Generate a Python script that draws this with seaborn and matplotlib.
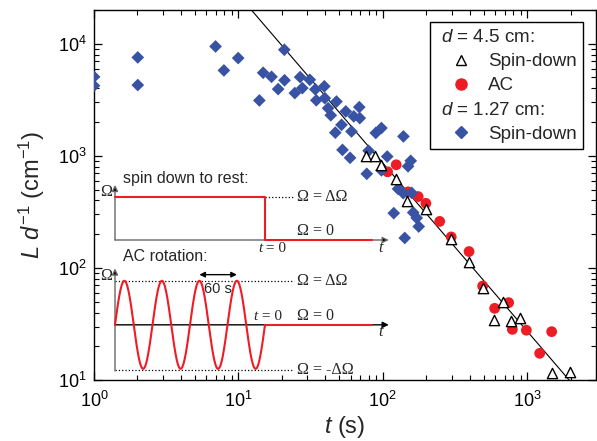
import numpy as np
import matplotlib
matplotlib.use('Agg')
import matplotlib.pyplot as plt
import seaborn as sns
from matplotlib.lines import Line2D

# d = 4.5 cm, spin-down (open triangles)
spin45_t = [77.1, 88.1, 98.0, 123, 148, 199, 296, 394, 492, 679, 589, 778, 888, 1486, 1968]
spin45_L = [1000, 1000, 832, 624, 396, 336, 182, 113, 66.3, 50.0, 34.3, 33.9, 35.5, 11.6, 11.9]

# d = 4.5 cm, AC rotation (red circles)
ac45_t = [108, 124, 150, 176, 199, 248, 298, 396, 492, 596, 745, 790, 988, 1479, 1222]
ac45_L = [720, 832, 477, 433, 377, 260, 189, 140, 69.0, 43.6, 49.0, 28.3, 27.8, 27.0, 17.3]

# d = 1.27 cm, spin-down (blue diamonds)
spin127_t = [1.0, 1.0, 2.01, 2.01, 6.95, 7.94, 9.97, 13.98, 14.85, 16.97,
             18.86, 20.88, 20.81, 24.6, 26.77, 27.73, 31.24, 34.12, 39.38, 34.66,
             39.68, 47.82, 41.83, 43.66, 55.44, 68.78, 63.01, 69.33, 51.8, 46.92,
             60.74, 89.44, 97.95, 139.1, 52.63, 59.38, 79.75, 107.4, 77.5, 97.95,
             156.2, 149.7, 127.6, 138.7, 158.8, 119.2, 162.6, 171.9, 177.5, 142.0]
spin127_L = [5070, 4220, 7550, 4280, 9460, 5780, 7450, 3120, 5510, 5070,
             3940, 4720, 8840, 3630, 5040, 4020, 4770, 3920, 4170, 3130,
             3270, 3050, 2660, 2300, 2490, 2720, 2250, 2170, 1890, 1610,
             1650, 1600, 1770, 1490, 1130, 960, 1110, 986, 691, 742,
             902, 806, 507, 464, 467, 308, 312, 279, 234, 185]

# power-law guide line (slope -3/2)
fit_t = [10, 3000]
fit_L = [27300, 5.25]

blue = '#3953A4'
red = '#EE1C25'
grey = '#666666'

sns.set_theme(style='ticks')
plt.rcParams['font.family'] = ['Liberation Sans', 'DejaVu Sans']
plt.rcParams['mathtext.fontset'] = 'custom'
plt.rcParams['mathtext.rm'] = 'Liberation Sans'
plt.rcParams['mathtext.it'] = 'Liberation Sans:italic'

fig = plt.figure(figsize=(5.97, 4.41), dpi=100)
ax = fig.add_axes([94/597, 61/441, 502/597, 370/441])

ax.plot(fit_t, fit_L, color='black', lw=0.8, zorder=2)
sns.scatterplot(x=ac45_t, y=ac45_L, marker='o', s=60, color=red, edgecolor='none', ax=ax, zorder=3)
sns.scatterplot(x=spin127_t, y=spin127_L, marker='D', s=42, color=blue, edgecolor='none', ax=ax, zorder=4)
sns.scatterplot(x=spin45_t, y=spin45_L, marker='^', s=55, color='white', edgecolor='black', linewidth=1, ax=ax, zorder=5)

ax.set(xscale='log', yscale='log', xlim=(1, 3000), ylim=(10, 2e4))
ax.tick_params(which='both', direction='in', top=True, right=True, labelsize=13, colors='black')
ax.tick_params(which='major', length=6, width=0.9)
ax.tick_params(which='minor', length=3.5, width=0.8)
ax.tick_params(axis='x', which='major', pad=8)
ax.tick_params(axis='y', which='major', pad=5)
for sp in ax.spines.values():
    sp.set_linewidth(1)
    sp.set_color('black')
ax.set_xlabel('$t$ (s)', fontsize=17, labelpad=2)
ax.set_ylabel('$L\\ d^{-1}$ (cm$^{-1}$)', fontsize=17, labelpad=8)

# legend with header rows
handles = [Line2D([], [], ls='none'),
           Line2D([], [], ls='none', marker='^', mfc='white', mec='black', ms=7.5, mew=1),
           Line2D([], [], ls='none', marker='o', color=red, ms=8),
           Line2D([], [], ls='none'),
           Line2D([], [], ls='none', marker='D', color=blue, ms=6.5)]
labels = ['$d$ = 4.5 cm:', 'Spin-down', 'AC', '$d$ = 1.27 cm:', 'Spin-down']
leg = ax.legend(handles, labels, loc='upper right', bbox_to_anchor=(0.975, 0.967),
                frameon=True, fancybox=False, edgecolor='black', framealpha=1,
                fontsize=13.5, handlelength=2.54, handletextpad=0.2, borderpad=0.35,
                labelspacing=0.38, borderaxespad=0)
leg.get_frame().set_linewidth(1)
rows = leg._legend_handle_box.get_children()[0].get_children()
for i in (0, 3):
    rows[i].get_children()[0].width = 0

# schematic insets (time in s, rotation in units of dOmega)
t_start, t_red_end, t_arrow = -240, 171, 198
serif = 'Liberation Serif'
arrow_kw = dict(arrowstyle='-|>', lw=1, ec=grey, fc='black', mutation_scale=9, shrinkA=0, shrinkB=0)


def omega_texts(ins, levels):
    for lab, y in levels:
        ins.text(51, y, lab, family=serif, fontsize=11.5, va='center', ha='left')


top = fig.add_axes([105/597, (441-252)/441, 300/597, 84/441])
top.set(xlim=(-256, 224), ylim=(-0.279, 1.674))
top.axis('off')
top.annotate('', xy=(t_start, 1.28), xytext=(t_start, 0), arrowprops=arrow_kw)
top.annotate('', xy=(t_arrow, 0), xytext=(t_start, 0), arrowprops=arrow_kw)
top.plot([t_start, 0, 0, t_red_end], [1, 1, 0, 0], color=red, lw=1.5, zorder=5)
top.plot([0, 46], [1, 1], ls=':', color='black', lw=0.9)
top.text(-227, 1.44, 'spin down to rest:', fontsize=11.5, va='center')
top.text(-244, 1.12, 'Ω', family=serif, fontsize=11.5, va='center', ha='right')
omega_texts(top, [('Ω = ΔΩ', 1.0), ('Ω = 0', 0.21)])
top.text(-4, -0.19, 't', family=serif, style='italic', fontsize=11, va='center', ha='right')
top.text(-4, -0.19, ' = 0', family=serif, fontsize=11, va='center', ha='left')
top.text(181, -0.19, 't', family=serif, style='italic', fontsize=11.5, va='center')

bot = fig.add_axes([105/597, (441-375)/441, 300/597, 125/441])
bot.set(xlim=(-256, 224), ylim=(-1.14, 1.70))
bot.axis('off')
bot.annotate('', xy=(t_start, 1.28), xytext=(t_start, -1.05), arrowprops=arrow_kw)
bot.annotate('', xy=(t_arrow, 0), xytext=(t_start, 0),
             arrowprops=dict(arrow_kw, ec='black'))
ts = np.linspace(t_start, 0, 400)
bot.plot(ts, np.sin(2 * np.pi * (ts - t_start) / 60), color=red, lw=1.5, zorder=5)
bot.plot([0, t_red_end], [0, 0], color=red, lw=1.5, zorder=5)
bot.plot([t_start, 46], [1, 1], ls=':', color='black', lw=0.9)
bot.plot([t_start, 46], [-1.02, -1.02], ls=':', color='black', lw=0.9)
bot.annotate('', xy=(-45, 1.14), xytext=(-105, 1.14),
             arrowprops=dict(arrowstyle='<|-|>', lw=1, color='black', mutation_scale=8,
                             shrinkA=0, shrinkB=0))
bot.text(-75, 0.82, '60 s', fontsize=10.5, va='center', ha='center')
bot.text(-227, 1.55, 'AC rotation:', fontsize=11.5, va='center')
bot.text(-244, 1.11, 'Ω', family=serif, fontsize=11.5, va='center', ha='right')
omega_texts(bot, [('Ω = ΔΩ', 1.0), ('Ω = 0', 0.2), ('Ω = -ΔΩ', -1.02)])
bot.text(-12, 0.2, 't', family=serif, style='italic', fontsize=11, va='center', ha='right')
bot.text(-12, 0.2, ' = 0', family=serif, fontsize=11, va='center', ha='left')
bot.text(181, -0.16, 't', family=serif, style='italic', fontsize=11.5, va='center')

fig.savefig('out.png', dpi=100)
